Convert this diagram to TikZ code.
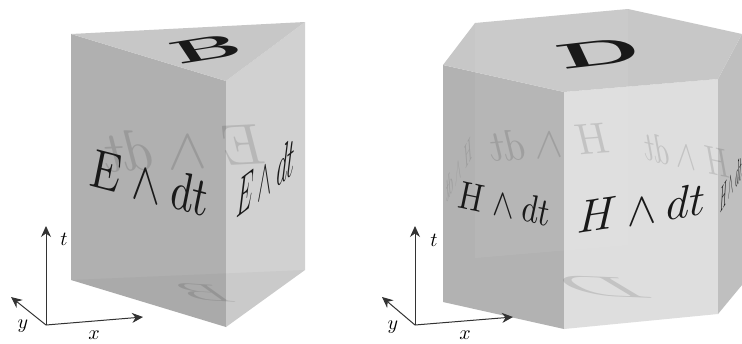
\documentclass[tikz,border=0pt]{standalone}
\usetikzlibrary{arrows.meta}
\begin{document}
\begin{tikzpicture}[x=1pt,y=-1pt,
  lab/.style={inner sep=0pt,text=black!90},
  ghost/.style={inner sep=0pt,text=black,text opacity=0.12},
  axis/.style={line width=1pt,-{Stealth[length=11pt,width=10pt]},black!80},
  axl/.style={inner sep=0pt,scale=2}]
\useasboundingbox (0,0) rectangle (742,343);
\fill[white] (0,0) rectangle (742,343);
% ---- triangular prism
\fill[black!31] (71,34) -- (226,81) -- (226,327) -- (71,280) -- cycle;
\fill[black!18] (226,81) -- (305,22) -- (305,270) -- (226,327) -- cycle;
\fill[black!22] (71,34) -- (305,22) -- (226,81) -- cycle;
\fill[black,opacity=0.03] (71,280) -- (305,270) -- (226,327) -- cycle;
\node[ghost,cm={-5.9,-0.3,0,5.8,(0,0)}] (ge) at (185,148) {$E\wedge dt$};
\node[ghost,cm={-6.5,0.4,-3.5,2.5,(0,0)}] (gb) at (203,293) {$\mathrm{B}$};
\node[lab,cm={8.2,1.3,-2,3,(0,0)}] (b) at (206,49) {$\mathbf{B}$};
\node[lab,cm={4.3,-1.12,0,5.6,(0,0)}] (el) at (148,182) {$E\wedge dt$};
\node[lab,cm={2.1,1.6,0.2,5.5,(0,0)}] (er) at (266,177) {$E\wedge dt$};
% ---- hexagonal prism
\fill[black!30] (443,65) -- (564,92) -- (564,329) -- (443,302) -- cycle;
\fill[black!13] (564,92) -- (718,79) -- (718,314) -- (564,329) -- cycle;
\fill[black!25] (718,79) -- (742,34) -- (742,285) -- (718,314) -- cycle;
\fill[black!22] (443,65) -- (475,23) -- (628,9) -- (742,34) -- (718,79) -- (564,92) -- cycle;
\fill[white,opacity=0.06] (475,23) -- (628,9) -- (628,245) -- (475,258) -- cycle;
\node[ghost,cm={-4.2,-0.32,0,4.4,(0,0)}] (gh1) at (550,142) {$H\wedge dt$};
\node[ghost,cm={-3,0.65,0,4,(0,0)}] (gh2) at (687,155) {$H\wedge dt$};
\node[ghost,cm={-0.9,-1.6,0,3.5,(0,0)}] (gh3) at (459,169) {$H\wedge dt$};
\node[ghost,cm={-10,0.4,-5,3,(0,0)}] (gd) at (600,287) {$\mathrm{D}$};
\node[lab,cm={9.3,1.05,-1.6,3.4,(0,0)}] (d) at (599,53) {$\mathbf{D}$};
\node[lab,cm={3.2,-0.67,0,4,(0,0)}] (hl) at (503,203) {$H\wedge dt$};
\node[lab,cm={4.4,0.66,0,4.6,(0,0)}] (hf) at (641,208) {$H\wedge dt$};
\node[lab,cm={0.75,1.2,0,3.4,(0,0)}] (hr) at (731,184) {$H\wedge dt$};
% ---- axes
\coordinate (o1) at (46,325); \coordinate (t1) at (46,226);
\coordinate (y1) at (11,297); \coordinate (x1) at (143,317);
\draw[axis] (o1) -- (t1); \draw[axis] (o1) -- (y1); \draw[axis] (o1) -- (x1);
\node[axl] (lt1) at (64,239) {$t$};
\node[axl] (ly1) at (23,326) {$y$};
\node[axl] (lx1) at (94,335) {$x$};
\coordinate (o2) at (415,325); \coordinate (t2) at (415,226);
\coordinate (y2) at (382,297); \coordinate (x2) at (513,317);
\draw[axis] (o2) -- (t2); \draw[axis] (o2) -- (y2); \draw[axis] (o2) -- (x2);
\node[axl] (lt2) at (434,240) {$t$};
\node[axl] (ly2) at (393,327) {$y$};
\node[axl] (lx2) at (465,335) {$x$};
\end{tikzpicture}
\end{document}
